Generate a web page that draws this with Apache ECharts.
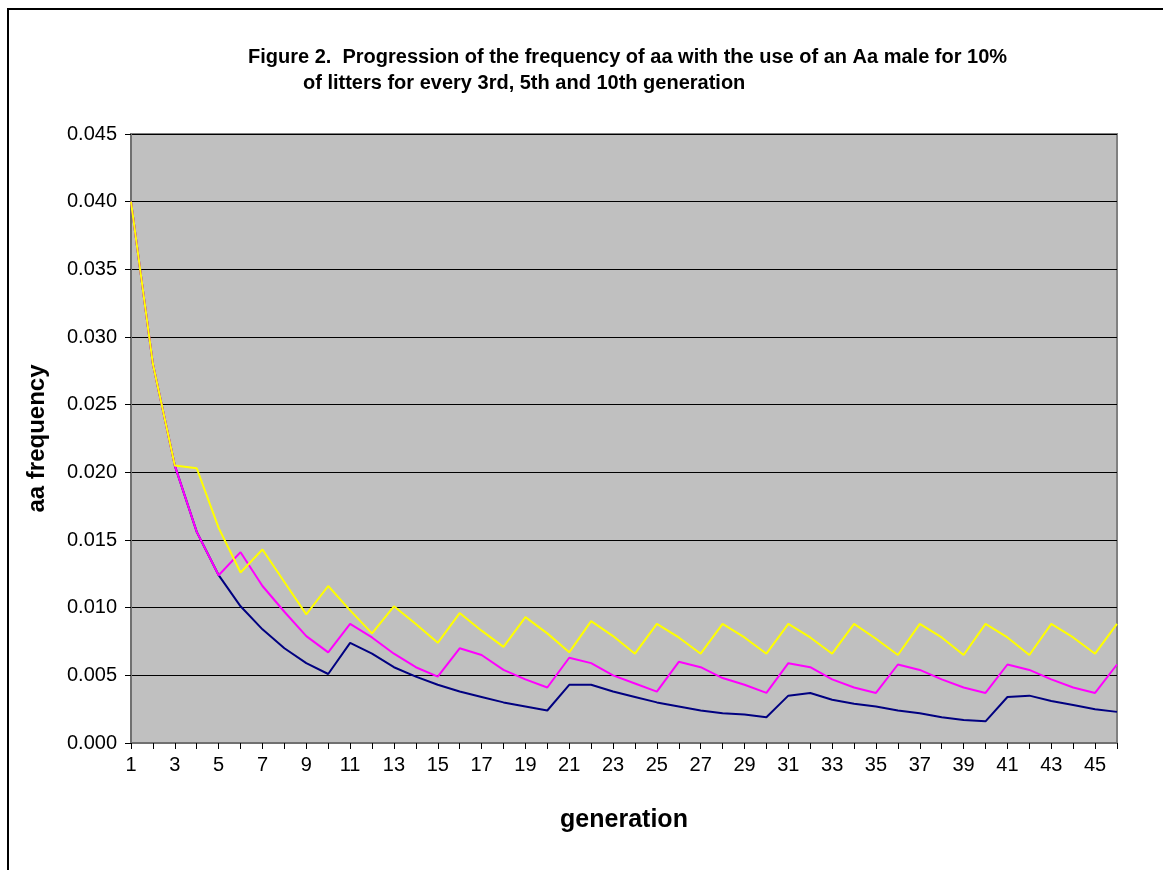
<!DOCTYPE html>
<html>
<head>
<meta charset="utf-8">
<script src="https://cdn.jsdelivr.net/npm/echarts@6/dist/echarts.min.js"></script>
<style>
html,body{margin:0;padding:0;background:#fff;}
#chart{width:1163px;height:870px;}
</style>
</head>
<body>
<div id="chart"></div>
<script>
const generations = Array.from({length: 46}, (_, i) => String(i + 1));
const yTicks = [0, 0.005, 0.01, 0.015, 0.02, 0.025, 0.03, 0.035, 0.04, 0.045];

const every10th = [0.0400,0.0280,0.0205,0.0156,0.0124,0.0101,0.0084,0.0070,0.0059,0.0051,
  0.0074,0.0066,0.0056,0.0049,0.0043,0.0038,0.0034,0.0030,0.0027,0.0024,
  0.0043,0.0043,0.0038,0.0034,0.0030,0.0027,0.0024,0.0022,0.0021,0.0019,
  0.0035,0.0037,0.0032,0.0029,0.0027,0.0024,0.0022,0.0019,0.0017,0.0016,
  0.0034,0.0035,0.0031,0.0028,0.0025,0.0023];

const every5th = [0.0400,0.0280,0.0205,0.0156,0.0124,0.0141,0.0116,0.0097,0.0079,0.0067,
  0.0088,0.0078,0.0066,0.0056,0.0049,0.0070,0.0065,0.0054,0.0047,0.0041,
  0.0063,0.0059,0.0050,0.0044,0.0038,0.0060,0.0056,0.0048,0.0043,0.0037,
  0.0059,0.0056,0.0047,0.0041,0.0037,0.0058,0.0054,0.0047,0.0041,0.0037,
  0.0058,0.0054,0.0047,0.0041,0.0037,0.0058];

const every3rd = [0.0400,0.0280,0.0205,0.0203,0.0159,0.0126,0.0143,0.0119,0.0095,0.0116,
  0.0098,0.0081,0.0101,0.0088,0.0074,0.0096,0.0083,0.0071,0.0093,0.0081,
  0.0067,0.0090,0.0079,0.0066,0.0088,0.0078,0.0066,0.0088,0.0078,0.0066,
  0.0088,0.0078,0.0066,0.0088,0.0077,0.0065,0.0088,0.0078,0.0065,0.0088,
  0.0078,0.0065,0.0088,0.0078,0.0066,0.0088];

const chart = echarts.init(document.getElementById('chart'), null, {renderer: 'canvas'});
const font = 'Liberation Sans, Arial, sans-serif';
chart.setOption({
  animation: false,
  backgroundColor: '#ffffff',
  graphic: [{
    type: 'rect',
    shape: {x: 8, y: 9, width: 1200, height: 900},
    style: {fill: 'none', stroke: '#000', lineWidth: 2},
    silent: true
  }],
  title: [{
    text: 'Figure 2.  Progression of the frequency of aa with the use of an Aa male for 10%',
    left: 243, top: 42,
    textStyle: {fontFamily: font, fontSize: 20, fontWeight: 'bold', color: '#000'}
  }, {
    text: 'of litters for every 3rd, 5th and 10th generation',
    left: 298, top: 68,
    textStyle: {fontFamily: font, fontSize: 20, fontWeight: 'bold', color: '#000'}
  }],
  grid: {
    left: 131, right: 46, top: 134, bottom: 127,
    show: true, backgroundColor: '#c0c0c0', borderColor: '#808080', borderWidth: 2
  },
  xAxis: {
    type: 'category',
    data: generations,
    boundaryGap: false,
    name: 'generation',
    nameLocation: 'middle',
    nameGap: 65,
    nameTextStyle: {fontFamily: font, fontSize: 25, fontWeight: 'bold', color: '#000'},
    axisLine: {lineStyle: {color: '#707070', width: 2}},
    axisTick: {show: true, interval: 0, length: 6, lineStyle: {color: '#000'}},
    axisLabel: {interval: 1, margin: 12, fontFamily: font, fontSize: 20, color: '#000'},
    splitLine: {show: false}
  },
  yAxis: {
    type: 'value',
    min: 0, max: 0.045, interval: 0.005,
    name: 'aa frequency',
    nameLocation: 'middle',
    nameGap: 82,
    nameRotate: 90,
    nameTextStyle: {fontFamily: font, fontSize: 24, fontWeight: 'bold', color: '#000'},
    axisLine: {show: true, lineStyle: {color: '#707070', width: 2}},
    axisTick: {show: true, length: 6, lineStyle: {color: '#000'}},
    axisLabel: {margin: 14, fontFamily: font, fontSize: 20, color: '#000',
      formatter: v => v.toFixed(3)},
    splitLine: {show: true, lineStyle: {color: '#000', width: 1}}
  },
  series: [{
    name: 'every 10th', type: 'line', data: every10th, symbol: 'none',
    lineStyle: {color: '#000080', width: 2}, itemStyle: {color: '#000080'}
  }, {
    name: 'every 5th', type: 'line', data: every5th, symbol: 'none',
    lineStyle: {color: '#ff00ff', width: 2}, itemStyle: {color: '#ff00ff'}
  }, {
    name: 'every 3rd', type: 'line', data: every3rd, symbol: 'none',
    lineStyle: {color: '#ffff00', width: 2}, itemStyle: {color: '#ffff00'}
  }]
});
</script>
</body>
</html>
